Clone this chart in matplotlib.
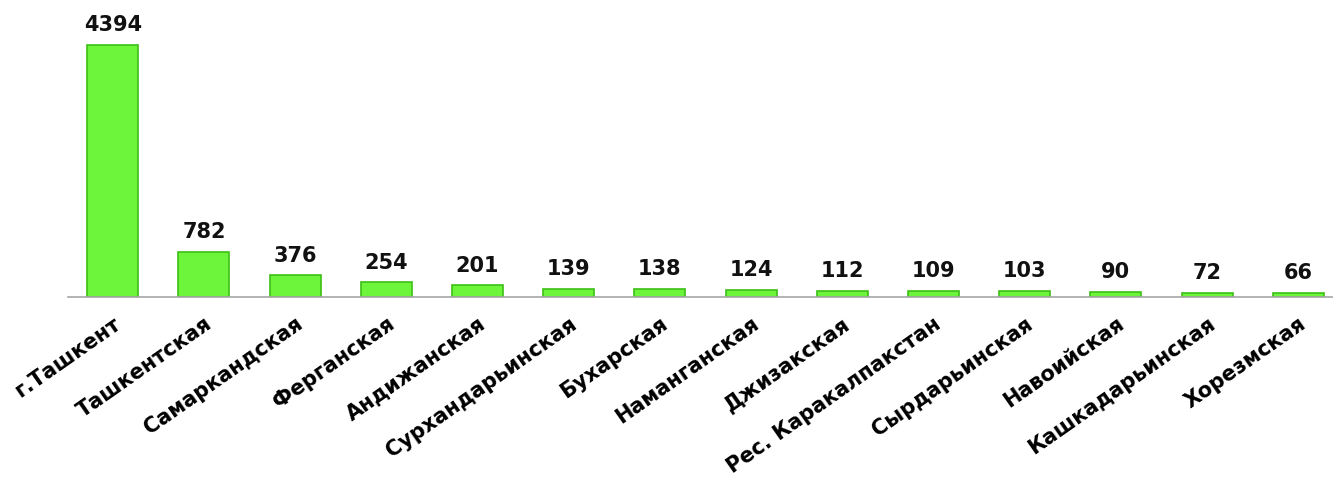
import matplotlib.pyplot as plt

# regions and counts
regions = ['г.Ташкент', 'Ташкентская', 'Самаркандская', 'Ферганская', 'Андижанская',
           'Сурхандарьинская', 'Бухарская', 'Наманганская', 'Джизакская',
           'Рес. Каракалпакстан', 'Сырдарьинская', 'Навоийская',
           'Кашкадарьинская', 'Хорезмская']
counts = [4394, 782, 376, 254, 201, 139, 138, 124, 112, 109, 103, 90, 72, 66]

plt.rcParams['font.family'] = ['DejaVu Sans']

fig = plt.figure(figsize=(13.33, 4.78), dpi=100)
ax = fig.add_axes([68 / 1333, 181 / 478, 1 - 68 / 1333, 297 / 478])

x = range(len(regions))
bars = ax.bar(x, counts, width=0.56, color='#6CF53A', edgecolor='#3DBF16', linewidth=1.2)
ax.bar_label(bars, labels=[str(c) for c in counts], padding=7,
             fontsize=15, fontweight='bold', color='#111111')

ax.set_xlim(-0.49, 13.38)
ax.set_ylim(0, 5179)
ax.set_yticks([])
ax.set_xticks(list(x))
ax.set_xticklabels(regions, rotation=35, ha='right', rotation_mode='anchor',
                   fontsize=15, fontweight='bold')
ax.tick_params(axis='x', length=0, pad=12)
for side in ['top', 'right', 'left']:
    ax.spines[side].set_visible(False)
ax.spines['bottom'].set_color('#A6A6A6')
ax.spines['bottom'].set_linewidth(1.2)

fig.savefig('out.png', dpi=100)
